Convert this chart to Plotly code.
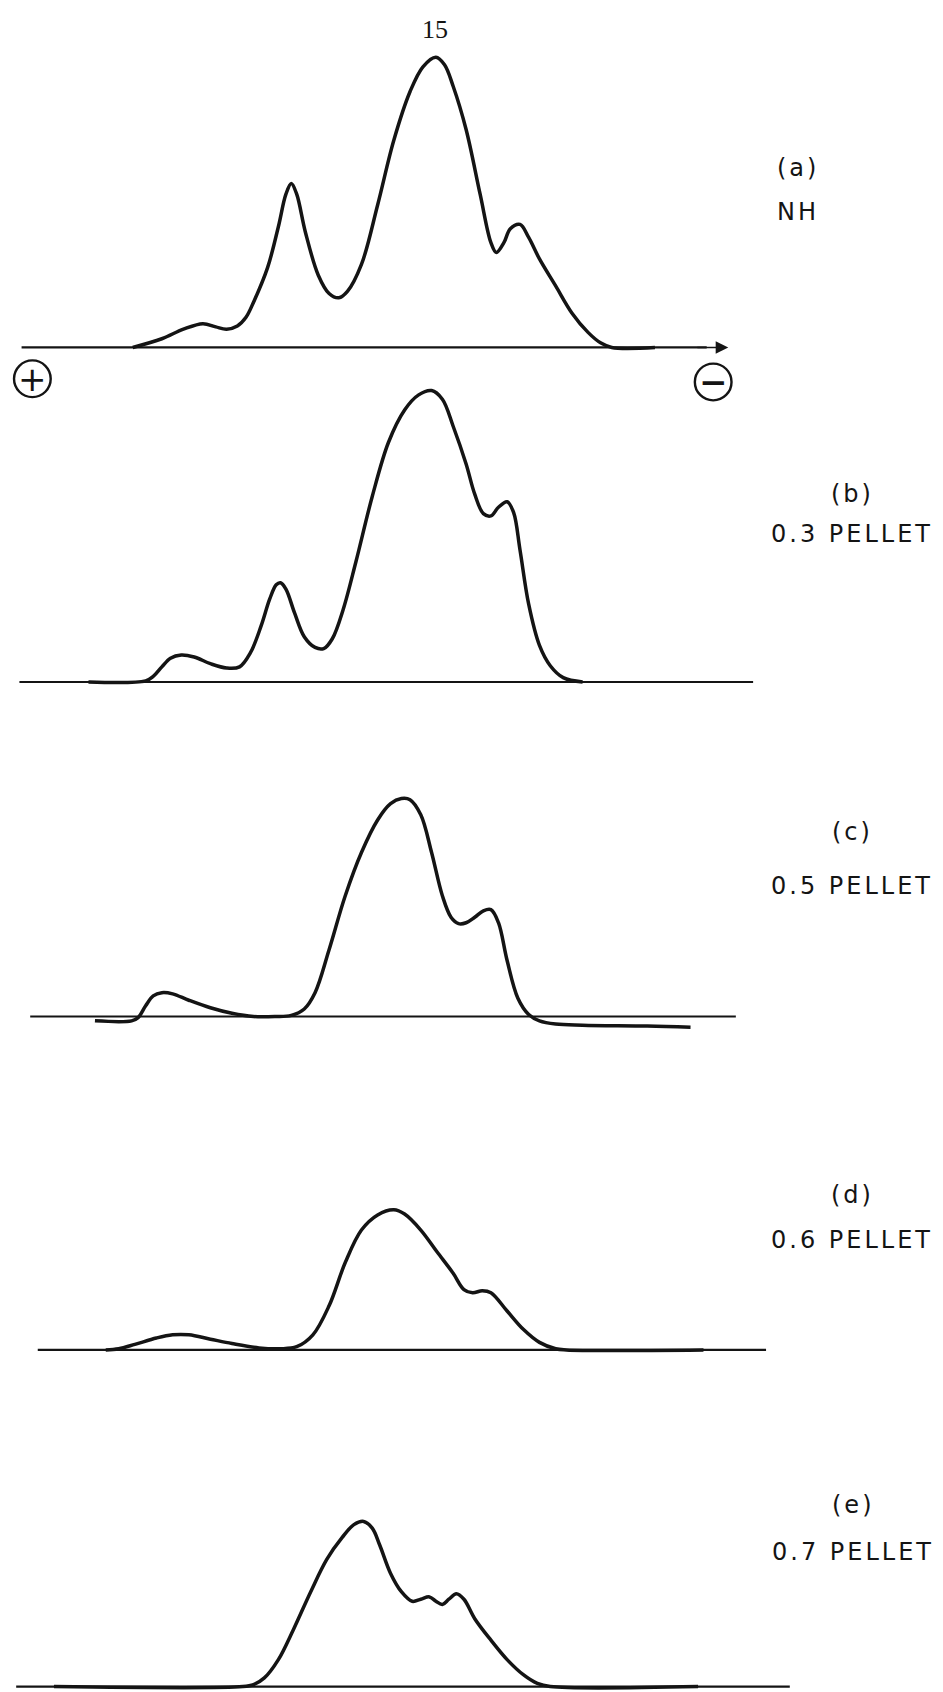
import plotly.graph_objects as go

# ---------------------------------------------------------------------------
# Densitometer scans of electrophoresis strips (migration distance in cm,
# relative absorbance).  Anode (+) on the left, cathode (-) on the right.
# ---------------------------------------------------------------------------

# (a) NH
a_x = [12.3, 15.0, 17.0, 18.8, 20.0, 21.0, 22.0, 22.8, 23.5, 24.8, 25.8, 26.5,
       27.0, 27.5, 28.3, 29.5, 30.5, 31.4, 32.2, 33.5, 35.0, 36.5, 38.0, 39.2,
       40.4, 41.2, 42.0, 43.2, 44.5, 45.5, 46.0, 46.7, 47.3, 48.2, 49.0, 50.0,
       51.5, 53.0, 54.5, 55.7, 56.7, 60.7]
a_y = [0.0, 0.030, 0.063, 0.082, 0.071, 0.063, 0.074, 0.104, 0.156, 0.275,
       0.416, 0.528, 0.565, 0.528, 0.398, 0.249, 0.186, 0.171, 0.193, 0.286,
       0.491, 0.714, 0.881, 0.967, 1.0, 0.974, 0.900, 0.751, 0.528, 0.361,
       0.327, 0.361, 0.409, 0.424, 0.379, 0.305, 0.212, 0.119, 0.052, 0.015,
       0.0, 0.0]

# (b) 0.3 pellet
b_x = [8.2, 13.5, 14.2, 15.0, 15.8, 16.8, 18.0, 19.5, 21.0, 22.2, 23.2, 24.2,
       25.0, 25.6, 26.0, 26.5, 27.3, 28.2, 29.2, 30.0, 30.8, 31.8, 33.0, 34.5,
       36.0, 37.5, 38.8, 40.0, 41.0, 42.0, 43.2, 44.0, 44.8, 45.5, 46.2, 47.0,
       47.6, 48.2, 49.0, 50.0, 51.0, 52.2, 54.0]
b_y = [0.0, 0.004, 0.019, 0.052, 0.082, 0.093, 0.086, 0.063, 0.048, 0.052,
       0.100, 0.193, 0.286, 0.335, 0.342, 0.320, 0.238, 0.156, 0.119, 0.115,
       0.149, 0.249, 0.416, 0.639, 0.825, 0.937, 0.989, 1.004, 0.974, 0.881,
       0.751, 0.647, 0.580, 0.572, 0.602, 0.621, 0.584, 0.454, 0.268, 0.126,
       0.056, 0.015, 0.0]

# (c) 0.5 pellet
c_x = [8.8, 12.2, 12.8, 13.5, 14.2, 15.0, 16.0, 17.5, 19.5, 21.5, 23.5, 25.5,
       27.0, 28.2, 29.2, 30.5, 32.0, 33.5, 35.0, 36.2, 37.2, 38.0, 39.0, 40.0,
       41.0, 41.8, 42.5, 43.2, 44.0, 44.8, 45.5, 46.2, 47.0, 48.0, 49.0, 50.0,
       51.5, 54.0, 60.0, 64.0]
c_y = [-0.015, -0.015, -0.004, 0.037, 0.071, 0.082, 0.078, 0.056, 0.030,
       0.011, 0.0, 0.0, 0.004, 0.026, 0.082, 0.230, 0.416, 0.565, 0.677, 0.733,
       0.751, 0.747, 0.695, 0.565, 0.416, 0.342, 0.320, 0.323, 0.342, 0.364,
       0.368, 0.323, 0.193, 0.063, 0.007, -0.015, -0.026, -0.030, -0.033,
       -0.037]

# (d) 0.6 pellet
d_x = [9.8, 11.0, 12.5, 14.5, 16.0, 17.5, 19.5, 21.5, 24.0, 26.0, 27.5, 29.0,
       30.5, 32.0, 33.5, 35.0, 36.5, 37.5, 39.0, 40.5, 42.0, 43.0, 43.8, 44.7,
       45.5, 47.0, 48.5, 50.0, 51.5, 52.5, 65.2]
d_y = [0.0, 0.004, 0.019, 0.041, 0.052, 0.052, 0.037, 0.022, 0.007, 0.004,
       0.011, 0.052, 0.152, 0.301, 0.413, 0.465, 0.483, 0.468, 0.413, 0.338,
       0.264, 0.208, 0.197, 0.204, 0.197, 0.134, 0.071, 0.026, 0.004, 0.0, 0.0]

# (e) 0.7 pellet
e_x = [5.0, 22.5, 23.5, 24.5, 25.8, 27.2, 28.8, 30.3, 31.7, 32.8, 33.7, 34.5,
       35.2, 36.2, 37.2, 38.2, 39.0, 39.8, 40.4, 41.0, 41.6, 42.3, 43.0, 44.0,
       45.5, 47.0, 48.5, 49.8, 51.0, 64.7]
e_y = [0.0, 0.0, 0.007, 0.030, 0.093, 0.197, 0.327, 0.439, 0.513, 0.558,
       0.569, 0.546, 0.487, 0.390, 0.327, 0.294, 0.301, 0.309, 0.294, 0.283,
       0.301, 0.320, 0.301, 0.234, 0.160, 0.093, 0.041, 0.011, 0.0, 0.0]

scan_x = [a_x, b_x, c_x, d_x, e_x]
scan_y = [a_y, b_y, c_y, d_y, e_y]
panel_letters = ["a", "b", "c", "d", "e"]
sample_names = ["NH", "0.3 PELLET", "0.5 PELLET", "0.6 PELLET", "0.7 PELLET"]

# extent of the zero line drawn under each scan (cm)
base_start = [2.0, 1.8, 2.8, 3.5, 1.5]
base_end = [65.5, 69.8, 68.2, 71.0, 73.2]

peak_label = "15"

# ---------------------------------------------------------------------------
# Page layout, worked out on an 874 x 1568 drawing grid
# ---------------------------------------------------------------------------
W, H = 943, 1692
GW, GH = 874.0, 1568.0
UNIT = 269.0          # grid units per absorbance unit
X_MAX = 87.4          # cm across the page

# (top, bottom, zero line) of each strip on the grid
strip_box = [(0, 335, 322), (338, 645, 632), (648, 965, 942),
             (968, 1265, 1251), (1268, 1568, 1563)]
# (x, y of letter, y of sample name) for each strip label
label_rows = [(740, 156, 196), (790, 458, 495), (790, 771, 821),
              (790, 1107, 1149), (791, 1395, 1438)]

INK = "#141414"
LABEL_FONT = dict(family="DejaVu Sans", size=24, color=INK)


def px(gx):
    return gx / GW


def py(gy):
    return 1.0 - gy / GH


def lettered(s):
    # draughtsman's lettering: widely spaced capitals
    return '<span style="letter-spacing:3px">' + s + '</span>'


fig = go.Figure()
layout_axes = {}
annotations = []
shapes = []

for i, (top, bottom, zero) in enumerate(strip_box):
    n = "" if i == 0 else str(i + 1)
    xa, ya = "x" + n, "y" + n
    layout_axes["xaxis" + n] = dict(domain=[0, 1], range=[0, X_MAX],
                                    visible=False, fixedrange=True)
    layout_axes["yaxis" + n] = dict(domain=[py(bottom), py(top)],
                                    range=[-(bottom - zero) / UNIT,
                                           (zero - top) / UNIT],
                                    visible=False, fixedrange=True)
    # zero line
    fig.add_trace(go.Scatter(x=[base_start[i], base_end[i]], y=[0, 0],
                             mode="lines", xaxis=xa, yaxis=ya,
                             line=dict(color=INK, width=2.2),
                             hoverinfo="skip", showlegend=False))
    # scan trace
    fig.add_trace(go.Scatter(x=scan_x[i], y=scan_y[i], mode="lines",
                             xaxis=xa, yaxis=ya,
                             line=dict(color=INK, width=3.5, shape="spline",
                                       smoothing=1.0),
                             name=sample_names[i], showlegend=False))

    lx, ly1, ly2 = label_rows[i]
    annotations.append(dict(text=lettered("(" + panel_letters[i] + ")"),
                            x=px(lx), y=py(ly1), xref="paper", yref="paper",
                            showarrow=False, font=LABEL_FONT,
                            xanchor="center", yanchor="middle"))
    annotations.append(dict(text=lettered(sample_names[i]), x=px(lx),
                            y=py(ly2), xref="paper", yref="paper",
                            showarrow=False, font=LABEL_FONT,
                            xanchor="center", yanchor="middle"))

# direction of migration arrow on the top strip
annotations.append(dict(x=67.5, y=0, ax=64.5, ay=0, xref="x", yref="y",
                        axref="x", ayref="y", showarrow=True, arrowhead=2,
                        arrowsize=1.8, arrowwidth=1.4, arrowcolor=INK,
                        text=""))

# fraction number above the main peak
annotations.append(dict(text=peak_label, x=px(403), y=py(27), xref="paper",
                        yref="paper", showarrow=False,
                        font=dict(family="Liberation Serif", size=26,
                                  color=INK),
                        xanchor="center", yanchor="middle"))

# electrode symbols
for cx, cy, sign in [(30, 351, "+"), (661, 354, "<b>\u2212</b>")]:
    r = 17
    shapes.append(dict(type="circle", xref="paper", yref="paper",
                       x0=px(cx - r), x1=px(cx + r), y0=py(cy + r),
                       y1=py(cy - r), line=dict(color=INK, width=2.4)))
    annotations.append(dict(text=sign, x=px(cx), y=py(cy), xref="paper",
                            yref="paper", showarrow=False,
                            font=dict(family="DejaVu Sans", size=34,
                                      color=INK),
                            xanchor="center", yanchor="middle"))

fig.update_layout(width=W, height=H, margin=dict(l=0, r=0, t=0, b=0),
                  paper_bgcolor="white", plot_bgcolor="white",
                  annotations=annotations, shapes=shapes, showlegend=False,
                  **layout_axes)

fig.write_html("out.html")
